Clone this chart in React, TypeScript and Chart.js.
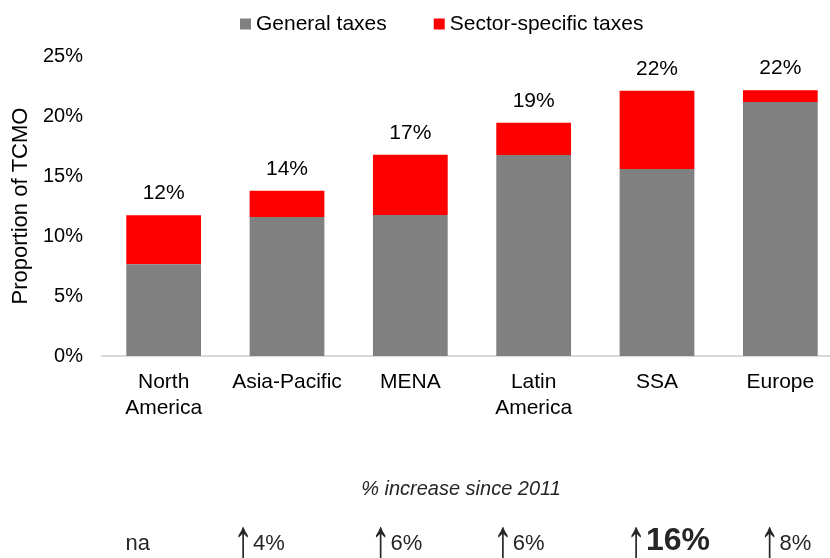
import React, { useEffect, useRef } from 'react';
import { Chart, registerables } from 'chart.js';

Chart.register(...registerables);

const categories: (string | string[])[] = [['North', 'America'], 'Asia-Pacific', 'MENA', ['Latin', 'America'], 'SSA', 'Europe'];
const generalTaxes = [7.64, 11.58, 11.75, 16.75, 15.58, 21.17];
const sectorTaxes = [4.08, 2.2, 5.03, 2.69, 6.53, 0.97];
const seriesNames = ['General taxes', 'Sector-specific taxes'];
const seriesColors = ['#808080', '#ff0000'];
const increaseTitle = '% increase since 2011';
const increaseLabels = ['na', '4%', '6%', '6%', '16%', '8%'];
const increaseHighlight = [false, false, false, false, true, false];

// layout-only constants
const increaseXOffsets = [-26, -28, -14, -15, 11, 5];
const FONT = '"Liberation Sans", Arial, sans-serif';

const overlay = {
  id: 'overlay',
  afterDatasetsDraw(chart: any) {
    const ctx = chart.ctx as CanvasRenderingContext2D;
    ctx.save();
    // total labels above bars
    const meta1 = chart.getDatasetMeta(1);
    ctx.font = `21px ${FONT}`;
    ctx.fillStyle = '#000';
    ctx.textAlign = 'center';
    ctx.textBaseline = 'alphabetic';
    meta1.data.forEach((bar: any, i: number) => {
      const total = generalTaxes[i] + sectorTaxes[i];
      ctx.fillText(Math.round(total) + '%', bar.x, bar.y - 16);
    });

    // legend
    let lx = 240;
    const ly = 24;
    ctx.textAlign = 'left';
    ctx.textBaseline = 'middle';
    chart.data.datasets.forEach((ds: any) => {
      ctx.fillStyle = ds.backgroundColor;
      ctx.fillRect(lx, ly - 5.5, 11, 11);
      lx += 16;
      ctx.fillStyle = '#000';
      ctx.font = `21px ${FONT}`;
      ctx.fillText(ds.label, lx, ly);
      lx += ctx.measureText(ds.label).width + 47;
    });

    // bottom annotations
    ctx.textBaseline = 'alphabetic';
    ctx.textAlign = 'center';
    ctx.fillStyle = '#262626';
    ctx.font = `italic 20px ${FONT}`;
    ctx.fillText(increaseTitle, 461, 495);

    const xs = chart.scales.x;
    increaseLabels.forEach((lab, i) => {
      const cx = xs.getPixelForValue(i) + increaseXOffsets[i];
      if (lab === 'na') {
        ctx.textAlign = 'center';
        ctx.font = `22px ${FONT}`;
        ctx.fillText(lab, cx, 550);
        return;
      }
      const valFont = increaseHighlight[i] ? `bold 32px ${FONT}` : `22px ${FONT}`;
      const arrowFont = `40px ${FONT}`;
      ctx.font = arrowFont;
      const aw = ctx.measureText('↑').width;
      ctx.font = valFont;
      const vw = ctx.measureText(lab).width;
      const left = cx - (aw + vw) / 2;
      ctx.textAlign = 'left';
      ctx.font = arrowFont;
      ctx.save();
      ctx.translate(left, 563);
      ctx.scale(1, 1.6);
      ctx.fillText('↑', 0, 0);
      ctx.restore();
      ctx.font = valFont;
      ctx.fillText(lab, left + aw, 550);
    });
    ctx.restore();
  },
};

export default function App() {
  const ref = useRef<HTMLCanvasElement | null>(null);
  useEffect(() => {
    if (!ref.current) return;
    Chart.defaults.font.family = FONT;
    const chart = new Chart(ref.current, {
      type: 'bar',
      data: {
        labels: categories,
        datasets: [
          { label: seriesNames[0], data: generalTaxes, backgroundColor: seriesColors[0] },
          { label: seriesNames[1], data: sectorTaxes, backgroundColor: seriesColors[1] },
        ],
      },
      options: {
        animation: false,
        responsive: false,
        layout: { padding: { top: 56, bottom: 140, left: 7, right: 8 } },
        plugins: { legend: { display: false }, tooltip: { enabled: false } },
        datasets: { bar: { barPercentage: 0.606, categoryPercentage: 1 } },
        scales: {
          x: {
            stacked: true,
            grid: { display: false, drawTicks: false },
            border: { display: true, color: '#d9d9d9', width: 2 },
            ticks: { padding: 14, color: '#000', font: { size: 21, family: FONT }, maxRotation: 0, autoSkip: false },
            afterFit: (s: any) => { s.height = 62; },
          },
          y: {
            stacked: true,
            min: 0,
            max: 25,
            grid: { display: false, drawTicks: false },
            border: { display: false },
            ticks: {
              stepSize: 5,
              padding: 19,
              color: '#000',
              font: { size: 20, family: FONT },
              callback: (v: any) => v + '%',
            },
            title: {
              display: true,
              text: 'Proportion of TCMO',
              color: '#000',
              font: { size: 22, family: FONT },
              padding: { top: 1, bottom: 0 },
            },
            afterFit: (s: any) => { s.width = 95; },
          },
        },
      },
      plugins: [overlay],
    });
    return () => chart.destroy();
  }, []);
  return (
    <div style={{ position: 'fixed', left: 0, top: 0, width: 830, height: 558, overflow: 'hidden', background: '#fff' }}>
      <canvas ref={ref} width={850} height={558} style={{ display: 'block' }} />
    </div>
  );
}
